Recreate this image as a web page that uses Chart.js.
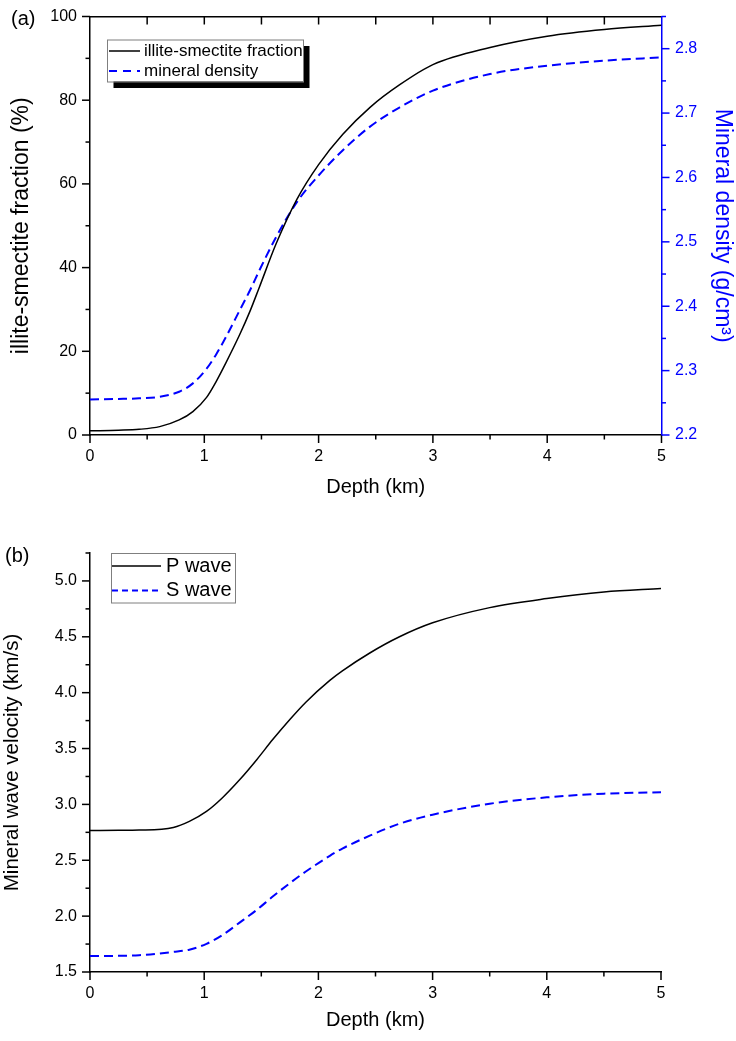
<!DOCTYPE html>
<html><head><meta charset="utf-8">
<script src="https://cdn.jsdelivr.net/npm/chart.js@4.4.1/dist/chart.umd.min.js"></script>
<style>
html,body{margin:0;padding:0;background:#fff;}
#wrap{position:relative;width:736px;height:1041px;background:#fff;}
canvas{position:absolute;left:0;}
#ca{top:0;} #cb{top:510px;}
</style></head><body>
<div id="wrap"><canvas id="ca" width="736" height="510"></canvas><canvas id="cb" width="736" height="531"></canvas></div>
<script>
// ---- data ----
// panel (a)
const depthA = [0, 0.25, 0.43, 0.61, 0.78, 0.9, 1.02, 1.1, 1.19, 1.31, 1.4, 1.48, 1.63, 1.81, 2.0, 2.21, 2.45, 2.71, 3.0, 3.5, 4.0, 4.5, 5.0];
const illiteFraction = [1.0, 1.15, 1.36, 2.0, 3.6, 5.6, 9.0, 12.6, 17.3, 24.0, 29.6, 35.2, 45.8, 56.3, 64.6, 71.8, 78.3, 83.7, 88.5, 92.6, 95.3, 96.9, 97.9];
const mineralDensity = [2.2553, 2.256, 2.2569, 2.2594, 2.2672, 2.2802, 2.303, 2.324, 2.3524, 2.3938, 2.4248, 2.455, 2.508, 2.5617, 2.6031, 2.642, 2.679, 2.709, 2.7349, 2.7607, 2.7736, 2.7814, 2.7865];
// panel (b)
const depthB = [0, 0.25, 0.43, 0.73, 0.87, 1.02, 1.16, 1.31, 1.46, 1.6, 1.75, 1.89, 2.1, 2.21, 2.45, 2.71, 3.0, 3.5, 4.0, 4.5, 5.0];
const pWave = [2.767, 2.768, 2.770, 2.794, 2.848, 2.937, 3.060, 3.220, 3.400, 3.580, 3.760, 3.915, 4.110, 4.195, 4.355, 4.500, 4.625, 4.761, 4.842, 4.901, 4.932];
const sWave = [1.643, 1.645, 1.650, 1.680, 1.700, 1.752, 1.831, 1.942, 2.056, 2.175, 2.295, 2.399, 2.540, 2.605, 2.720, 2.827, 2.908, 3.006, 3.063, 3.096, 3.108];

const depthTicks = [0, 1, 2, 3, 4, 5];
const depthMinor = [0.5, 1.5, 2.5, 3.5, 4.5];
const depthTop = [0.5, 1, 1.5, 2, 2.5, 3, 3.5, 4, 4.5];
const fractionTicks = [0, 20, 40, 60, 80, 100];
const fractionMinor = [10, 30, 50, 70, 90];
const densityTicks = [2.2, 2.3, 2.4, 2.5, 2.6, 2.7, 2.8];
const densityMinor = [2.25, 2.35, 2.45, 2.55, 2.65, 2.75, 2.85];
const velocityTicks = [1.5, 2.0, 2.5, 3.0, 3.5, 4.0, 4.5, 5.0];
const velocityMinor = [1.75, 2.25, 2.75, 3.25, 3.75, 4.25, 4.75, 5.25];

const FONT = "'Liberation Sans', Arial, Helvetica, sans-serif";
Chart.defaults.font.family = FONT;
Chart.defaults.color = '#000';

const pts = (xs, ys) => xs.map((x, i) => ({x, y: ys[i]}));
const setTicks = (arr) => (s) => { s.ticks = arr.map(v => ({value: v})); };
const fixV = (w) => (s) => { s.width = w; s.paddingTop = 0; s.paddingBottom = 0; };
const fixH = (h) => (s) => { s.height = h; s.paddingLeft = 0; s.paddingRight = 0; };

const decor = {
  id: 'decor',
  afterDraw(chart, args, opts) {
    const ctx = chart.ctx;
    const a = chart.chartArea;
    ctx.save();
    ctx.lineCap = 'butt';
    (opts.ticks || []).forEach(t => {
      const s = chart.scales[t.scale];
      ctx.strokeStyle = t.color || '#000';
      ctx.lineWidth = 1.5;
      const draw = (vals, len) => vals.forEach(v => {
        const p = s.getPixelForValue(v);
        ctx.beginPath();
        if (t.side === 'left') { ctx.moveTo(a.left - len, p); ctx.lineTo(a.left, p); }
        else if (t.side === 'right') { ctx.moveTo(a.right, p); ctx.lineTo(a.right + len, p); }
        else if (t.side === 'bottom') { ctx.moveTo(p, a.bottom); ctx.lineTo(p, a.bottom + len); }
        else if (t.side === 'topIn') { ctx.moveTo(p, a.top); ctx.lineTo(p, a.top + len); }
        ctx.stroke();
      });
      draw(t.major, 8);
      draw(t.minor || [], 4.5);
    });
    if (opts.panel) {
      ctx.fillStyle = '#000';
      ctx.font = '20px ' + FONT;
      ctx.textAlign = 'left';
      ctx.textBaseline = 'middle';
      ctx.fillText(opts.panel.text, opts.panel.x, opts.panel.y);
    }
    const L = opts.legend;
    if (L) {
      if (L.shadow) {
        ctx.fillStyle = '#000';
        ctx.fillRect(L.x + L.shadow, L.y + L.shadow, L.w, L.h);
      }
      ctx.fillStyle = '#fff';
      ctx.fillRect(L.x, L.y, L.w, L.h);
      ctx.strokeStyle = '#7f7f7f';
      ctx.lineWidth = 1;
      ctx.strokeRect(L.x + 0.5, L.y + 0.5, L.w, L.h);
      chart.data.datasets.forEach((ds, i) => {
        const yy = L.rows[i];
        ctx.strokeStyle = ds.borderColor;
        ctx.lineWidth = ds.borderWidth;
        ctx.setLineDash(ds.borderDash && ds.borderDash.length ? (L.dash || ds.borderDash) : []);
        ctx.beginPath();
        ctx.moveTo(L.x0, yy); ctx.lineTo(L.x1, yy);
        ctx.stroke();
        ctx.setLineDash([]);
        ctx.fillStyle = '#000';
        ctx.font = L.font + 'px ' + FONT;
        ctx.textAlign = 'left';
        ctx.textBaseline = 'middle';
        ctx.fillText(ds.label, L.tx, yy);
      });
    }
    ctx.restore();
  }
};

const noGrid = {display: true, drawOnChartArea: false, drawTicks: false};

new Chart(document.getElementById('ca'), {
  type: 'line',
  data: {
    datasets: [
      {label: 'illite-smectite fraction', data: pts(depthA, illiteFraction), borderColor: '#000', borderWidth: 1.5,
       pointRadius: 0, cubicInterpolationMode: 'monotone', xAxisID: 'x', yAxisID: 'y'},
      {label: 'mineral density', data: pts(depthA, mineralDensity), borderColor: '#0000ff', borderWidth: 2, borderDash: [9, 5],
       pointRadius: 0, cubicInterpolationMode: 'monotone', xAxisID: 'x', yAxisID: 'y1'}
    ]
  },
  options: {
    responsive: false, animation: false, devicePixelRatio: 1,
    layout: {padding: 0},
    plugins: {
      legend: {display: false}, tooltip: {enabled: false},
      decor: {
        panel: {text: '(a)', x: 11, y: 19},
        ticks: [
          {scale: 'y', side: 'left', major: fractionTicks, minor: fractionMinor},
          {scale: 'x', side: 'bottom', major: depthTicks, minor: depthMinor},
          {scale: 'x2', side: 'topIn', major: depthTop},
          {scale: 'y1', side: 'right', major: densityTicks, minor: densityMinor, color: '#0000ff'}
        ],
        legend: {x: 107, y: 39.5, w: 196, h: 42, shadow: 6.5, font: 17, rows: [51, 71], x0: 109, x1: 140, tx: 144, dash: [8, 6]}
      }
    },
    scales: {
      x: {type: 'linear', position: 'bottom', min: 0, max: 5, grid: noGrid,
          border: {display: true, color: '#000', width: 1.5},
          afterBuildTicks: setTicks(depthTicks),
          afterFit: fixH(75),
          ticks: {font: {size: 16}, padding: 12, color: '#000', callback: (v) => String(v)},
          title: {display: true, text: 'Depth (km)', font: {size: 20}, padding: {top: 0, bottom: 11}, color: '#000'}},
      x2: {type: 'linear', position: 'top', min: 0, max: 5, grid: noGrid,
           border: {display: true, color: '#000', width: 1.5},
           afterBuildTicks: setTicks(depthTicks),
           afterFit: fixH(16.5),
           ticks: {display: false}},
      y: {type: 'linear', position: 'left', min: 0, max: 100, grid: noGrid,
          border: {display: true, color: '#000', width: 1.5},
          afterBuildTicks: setTicks(fractionTicks),
          afterFit: fixV(90),
          ticks: {font: {size: 16}, padding: 13, color: '#000', callback: (v) => String(v)},
          title: {display: true, text: 'illite-smectite fraction (%)', font: {size: 23}, padding: {top: 8, bottom: 0}, color: '#000'}},
      y1: {type: 'linear', position: 'right', min: 2.2, max: 2.85, grid: noGrid,
           border: {display: true, color: '#0000ff', width: 1.5},
           afterBuildTicks: setTicks(densityTicks),
           afterFit: fixV(74.5),
           ticks: {font: {size: 16}, padding: 13.5, color: '#0000ff', callback: (v) => v.toFixed(1)},
           title: {display: true, text: 'Mineral density (g/cm³)', font: {size: 23}, padding: {top: 0, bottom: 0}, color: '#0000ff'}}
    }
  },
  plugins: [decor]
});

new Chart(document.getElementById('cb'), {
  type: 'line',
  data: {
    datasets: [
      {label: 'P wave', data: pts(depthB, pWave), borderColor: '#000', borderWidth: 1.5,
       pointRadius: 0, cubicInterpolationMode: 'monotone'},
      {label: 'S wave', data: pts(depthB, sWave), borderColor: '#0000ff', borderWidth: 2, borderDash: [9, 5],
       pointRadius: 0, cubicInterpolationMode: 'monotone'}
    ]
  },
  options: {
    responsive: false, animation: false, devicePixelRatio: 1,
    layout: {padding: {top: 43, right: 75, left: 0, bottom: 0}},
    plugins: {
      legend: {display: false}, tooltip: {enabled: false},
      decor: {
        panel: {text: '(b)', x: 5, y: 46},
        ticks: [
          {scale: 'y', side: 'left', major: velocityTicks, minor: velocityMinor},
          {scale: 'x', side: 'bottom', major: depthTicks, minor: depthMinor}
        ],
        legend: {x: 111, y: 43, w: 124, h: 49.5, shadow: 0, font: 20, rows: [56, 80.5], x0: 112, x1: 161, tx: 166, dash: [6, 4]}
      }
    },
    scales: {
      x: {type: 'linear', position: 'bottom', min: 0, max: 5, grid: noGrid,
          border: {display: true, color: '#000', width: 1.5},
          afterBuildTicks: setTicks(depthTicks),
          afterFit: fixH(69),
          ticks: {font: {size: 16}, padding: 11.5, color: '#000', callback: (v) => String(v)},
          title: {display: true, text: 'Depth (km)', font: {size: 20}, padding: {top: 0, bottom: 9}, color: '#000'}},
      y: {type: 'linear', position: 'left', min: 1.5, max: 5.25, grid: noGrid,
          border: {display: true, color: '#000', width: 1.5},
          afterBuildTicks: setTicks(velocityTicks),
          afterFit: fixV(90),
          ticks: {font: {size: 16}, padding: 13, color: '#000', callback: (v) => v.toFixed(1)},
          title: {display: true, text: 'Mineral wave velocity (km/s)', font: {size: 20.5}, padding: {top: 0, bottom: 0}, color: '#000'}}
    }
  },
  plugins: [decor]
});
</script>
</body></html>
